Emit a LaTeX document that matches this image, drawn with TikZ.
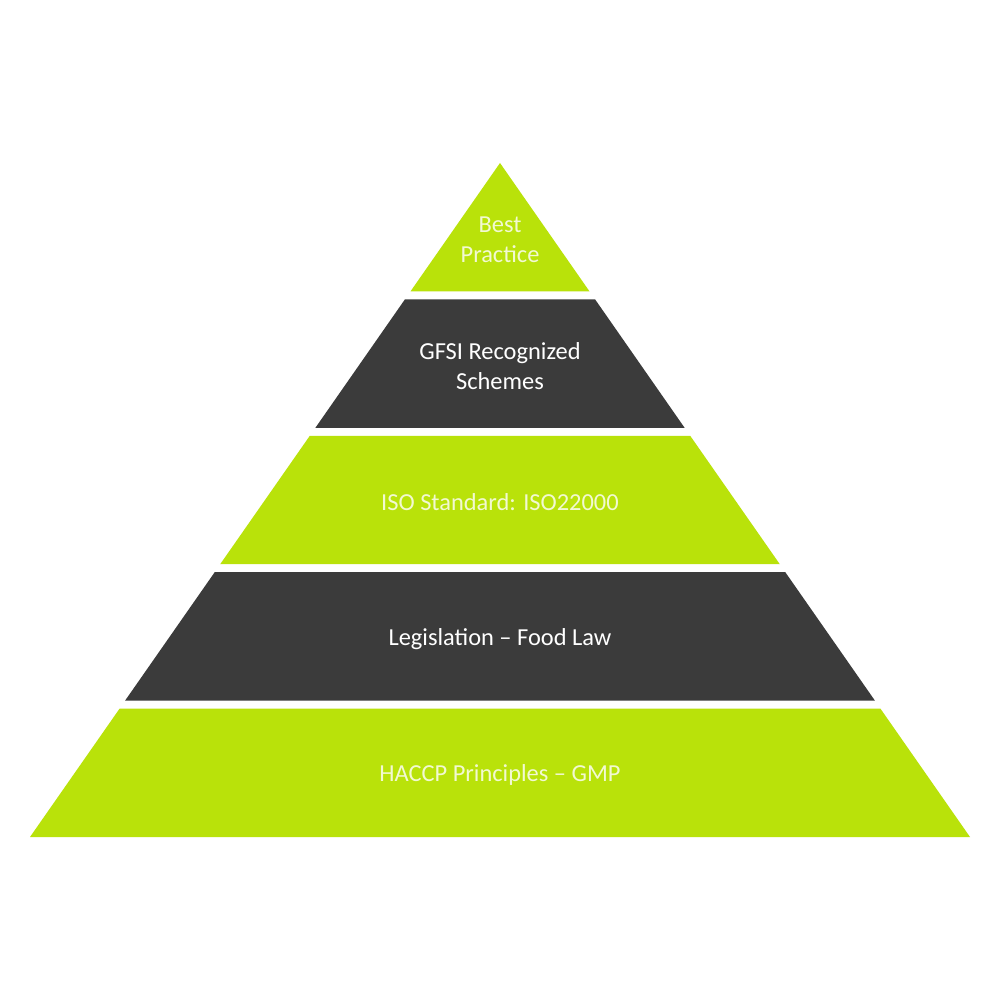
\documentclass[tikz,border=0pt]{standalone}
\usepackage{fontspec}
\setmainfont{Carlito}
\definecolor{limegreen}{HTML}{B9E20A}
\definecolor{darkslate}{HTML}{3B3B3B}
\definecolor{paletext}{HTML}{F2F9D2}
\tikzset{
    tiergreen/.style={fill=limegreen},
    tierdark/.style={fill=darkslate},
    tiertext/.style={align=center, font=\fontsize{13.9}{17}\selectfont},
}

\begin{document}
\begin{tikzpicture}[x=0.02cm, y=-0.02cm]
    \useasboundingbox [fill=white] (0,0) rectangle (1000,1000);

    \fill [tiergreen] (500,163)   -- (589.5,291.4) -- (410.5,291.4) -- cycle;
    \fill [tierdark]  (404.9,299.4) -- (595.1,299.4) -- (684.6,427.8) -- (315.4,427.8) -- cycle;
    \fill [tiergreen] (309.8,435.8) -- (690.2,435.8) -- (779.8,564.2) -- (220.2,564.2) -- cycle;
    \fill [tierdark]  (214.7,572.2) -- (785.3,572.2) -- (874.9,700.6) -- (125.1,700.6) -- cycle;
    \fill [tiergreen] (119.6,708.6) -- (880.4,708.6) -- (970,837)     -- (30,837)      -- cycle;

    \node [tiertext] [text=paletext] (best) at (500,240) {Best\\Practice};
    \node [tiertext] [text=white]    (gfsi) at (500,366) {GFSI Recognized\\Schemes};
    \node [tiertext] [text=paletext] (iso)  at (500,502) {ISO Standard: ISO22000};
    \node [tiertext] [text=white]    (law)  at (500,639) {Legislation -- Food Law};
    \node [tiertext] [text=paletext] (gmp)  at (500,775) {HACCP Principles -- GMP};

\end{tikzpicture}
\end{document}
